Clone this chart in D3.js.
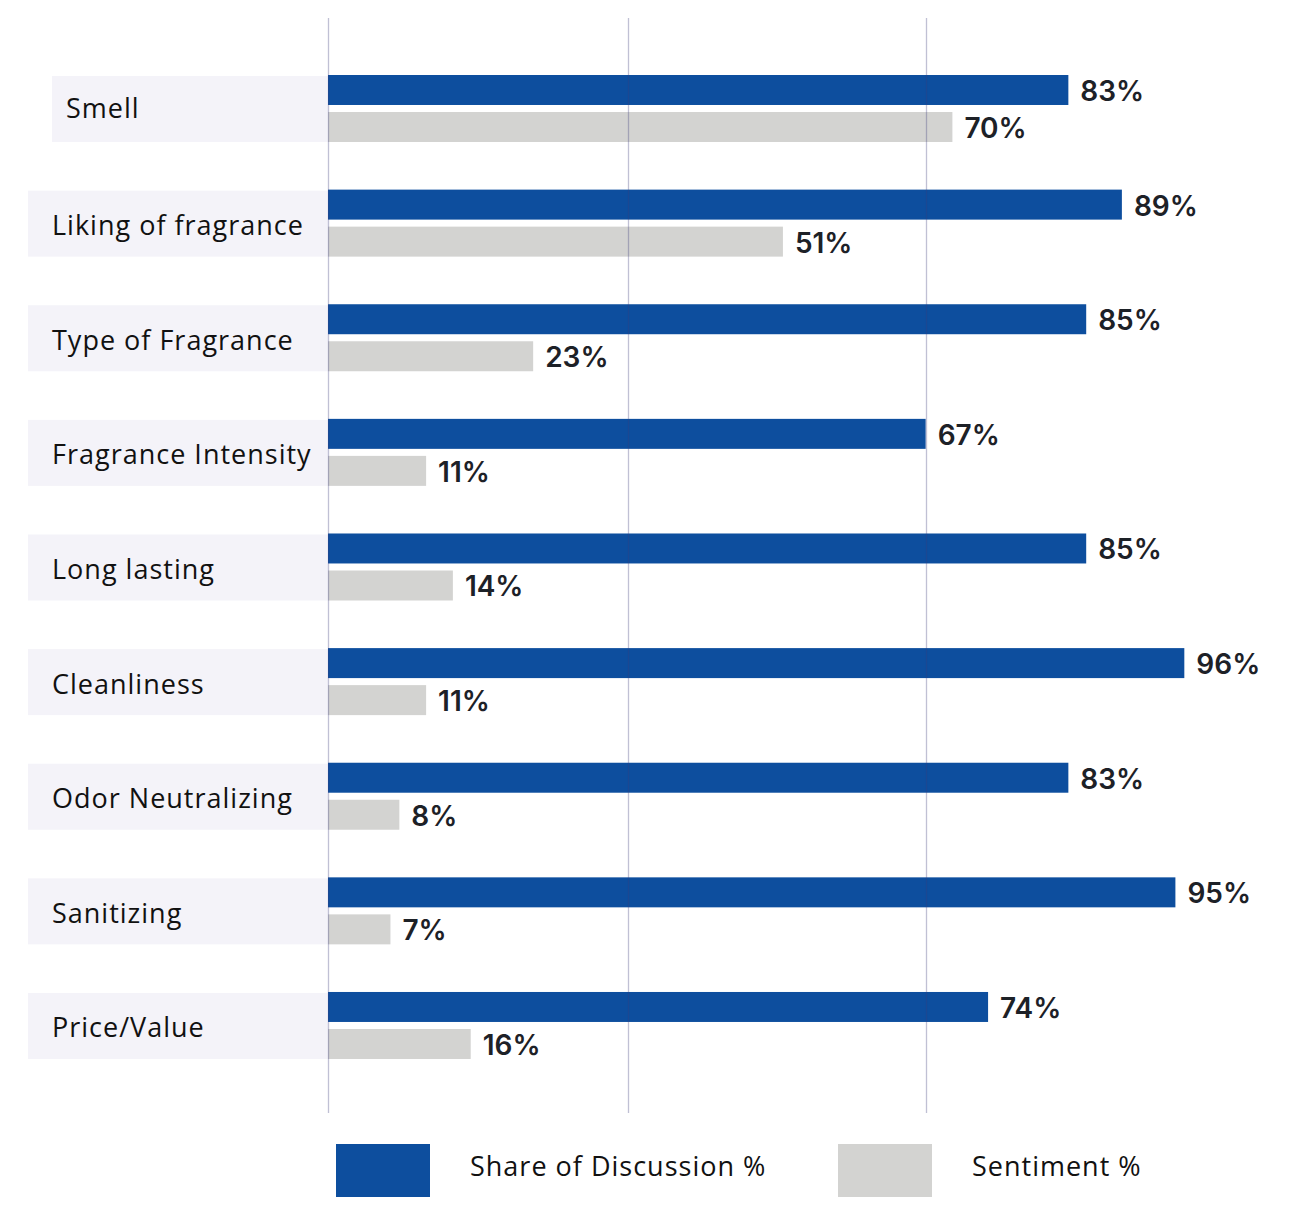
<!DOCTYPE html>
<html>
<head>
<meta charset="utf-8">
<script src="https://cdn.jsdelivr.net/npm/d3@7/dist/d3.min.js"></script>
<style>
  html, body { margin: 0; padding: 0; background: #ffffff; }
  svg { display: block; }
</style>
</head>
<body>
<svg id="chart" width="1292" height="1214"></svg>
<script>
// Attribute categories, top to bottom
const categories = [
  "Smell",
  "Liking of fragrance",
  "Type of Fragrance",
  "Fragrance Intensity",
  "Long lasting",
  "Cleanliness",
  "Odor Neutralizing",
  "Sanitizing",
  "Price/Value"
];

// Series values (percent)
const shareOfDiscussion = [83, 89, 85, 67, 85, 96, 83, 95, 74];
const sentiment = [70, 51, 23, 11, 14, 11, 8, 7, 16];

// Series names and colours
const seriesNames = ["Share of Discussion %", "Sentiment %"];
const seriesColors = ["#0d4e9e", "#d3d3d1"];

// Vertical reference lines (percent)
const gridTicks = [0, 33.6, 67];

const svg = d3.select("#chart");

// Faint card edge on the left
const defs = svg.append("defs");
defs.append("filter").attr("id", "soft")
  .attr("x", "-50%").attr("width", "200%")
  .append("feGaussianBlur").attr("stdDeviation", 2);
svg.append("line")
  .attr("x1", 14).attr("x2", 14).attr("y1", 22).attr("y2", 1214)
  .attr("stroke", "#e6e6f0").attr("stroke-width", 4)
  .attr("filter", "url(#soft)");
svg.append("rect").attr("x", 15).attr("y", 0).attr("width", 1277).attr("height", 1214)
  .attr("fill", "#ffffff");

const x = d3.scaleLinear().domain([0, 100]).range([328, 1220]);

const y = d3.scaleBand()
  .domain(categories)
  .range([76, 1059])
  .paddingInner(0.424)
  .paddingOuter(0);

const inner = d3.scaleBand()
  .domain(seriesNames)
  .range([-1, 66])
  .paddingInner(0.19)
  .paddingOuter(0);

const rows = categories.map((c, i) => ({
  cat: c,
  i,
  values: [shareOfDiscussion[i], sentiment[i]]
}));

const labelFont = "'Open Sans', sans-serif";

// Label cards
const row = svg.append("g").selectAll("g.row")
  .data(rows).join("g")
  .attr("class", "row")
  .attr("transform", d => `translate(0,${y(d.cat)})`);

row.append("rect")
  .attr("x", d => d.i === 0 ? 52 : 28)
  .attr("y", 0)
  .attr("width", d => x(0) - (d.i === 0 ? 52 : 28))
  .attr("height", y.bandwidth())
  .attr("fill", "#f4f3f9");

row.append("text")
  .attr("x", d => d.i === 0 ? 66 : 52)
  .attr("y", d => y.bandwidth() / 2 + (d.i === 0 ? -2 : 1))
  .attr("dominant-baseline", "central")
  .attr("font-family", labelFont)
  .attr("font-size", 27)
  .attr("letter-spacing", 1)
  .attr("fill", "#111111")
  .text(d => d.cat);

// Bars
row.selectAll("rect.bar")
  .data(d => d.values.map((v, k) => ({ v, k })))
  .join("rect")
  .attr("class", "bar")
  .attr("x", x(0))
  .attr("y", d => inner(seriesNames[d.k]))
  .attr("width", d => x(d.v) - x(0))
  .attr("height", inner.bandwidth())
  .attr("fill", d => seriesColors[d.k]);

// Value labels
row.selectAll("text.val")
  .data(d => d.values.map((v, k) => ({ v, k })))
  .join("text")
  .attr("class", "val")
  .attr("x", d => x(d.v) + 12)
  .attr("y", d => inner(seriesNames[d.k]) + inner.bandwidth() / 2 + 1)
  .attr("dominant-baseline", "central")
  .attr("font-family", "Inter, sans-serif")
  .attr("font-weight", 600)
  .attr("font-size", 28)
  .attr("fill", "#1d2127")
  .text(d => d.v + "%");

// Reference lines drawn over the bars
svg.append("g").selectAll("line")
  .data(gridTicks).join("line")
  .attr("x1", d => Math.round(x(d)) + 0.5)
  .attr("x2", d => Math.round(x(d)) + 0.5)
  .attr("y1", 18).attr("y2", 1113)
  .attr("stroke", "#3a3a7a")
  .attr("stroke-opacity", 0.32)
  .attr("stroke-width", 1.3);

// Legend
const legendX = [336, 838];
const legend = svg.append("g").selectAll("g")
  .data(seriesNames).join("g")
  .attr("transform", (d, i) => `translate(${legendX[i]},1144)`);
legend.append("rect")
  .attr("width", 94).attr("height", 53)
  .attr("fill", (d, i) => seriesColors[i]);
legend.append("text")
  .attr("x", 134).attr("y", 21)
  .attr("dominant-baseline", "central")
  .attr("font-family", labelFont)
  .attr("font-size", 27)
  .attr("letter-spacing", 1)
  .attr("fill", "#111111")
  .text(d => d);
</script>
</body>
</html>
